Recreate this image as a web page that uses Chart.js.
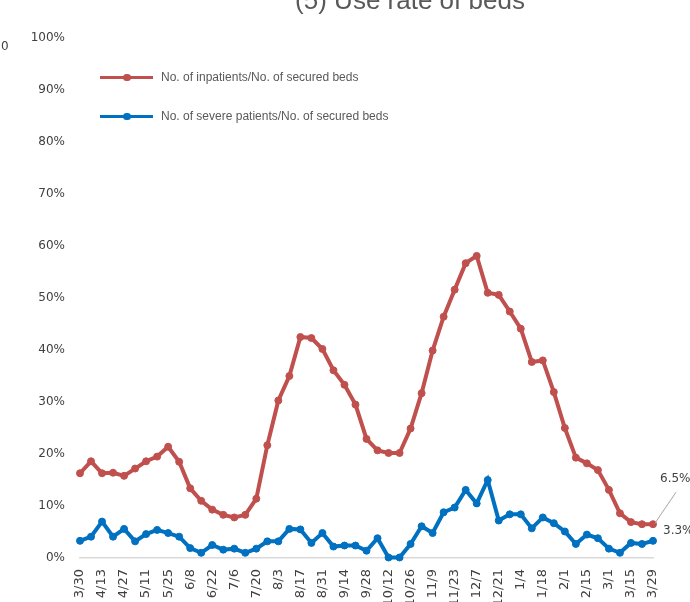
<!DOCTYPE html>
<html>
<head>
<meta charset="utf-8">
<script src="https://cdn.jsdelivr.net/npm/chart.js@4/dist/chart.umd.min.js"></script>
<style>
  html, body { margin: 0; padding: 0; background: #fff; }
  #wrap { position: relative; width: 690px; height: 602px; overflow: hidden; background: #fff; }
  #c { position: absolute; left: 0; top: 0; }
  .title { position: absolute; left: 410px; top: -13px; transform: translateX(-50%); font: 26px "Liberation Sans", Arial, sans-serif; line-height: 26px; color: #595959; white-space: nowrap; }
  .leg { position: absolute; left: 100px; height: 16px; font: 12px "Liberation Sans", Arial, sans-serif; color: #595959; white-space: nowrap; }
  .leg .ln { position: absolute; left: 0; top: 7px; width: 53px; height: 2.5px; }
  .leg .dt { position: absolute; left: 23px; top: 4.5px; width: 7.5px; height: 7.5px; border-radius: 50%; }
  .leg .tx { position: absolute; left: 61px; top: 0; line-height: 16px; }
  .stray { position: absolute; left: 1px; top: 39px; font: 12px "DejaVu Sans", sans-serif; color: #404040; }
</style>
</head>
<body>
<div id="wrap">
  <canvas id="c" width="690" height="602"></canvas>
  <div class="title">(5) Use rate of beds</div>
  <div class="stray">0</div>
  <div class="leg" style="top:69px"><span class="ln" style="background:#C0504D"></span><span class="dt" style="background:#C0504D"></span><span class="tx">No. of inpatients/No. of secured beds</span></div>
  <div class="leg" style="top:108px"><span class="ln" style="background:#0070C0"></span><span class="dt" style="background:#0070C0"></span><span class="tx">No. of severe patients/No. of secured beds</span></div>
</div>
<script>
const categories = ["3/30","4/6","4/13","4/20","4/27","5/4","5/11","5/18","5/25","6/1","6/8","6/15","6/22","6/29","7/6","7/13","7/20","7/27","8/3","8/10","8/17","8/24","8/31","9/7","9/14","9/21","9/28","10/5","10/12","10/19","10/26","11/2","11/9","11/16","11/23","11/30","12/7","12/14","12/21","12/28","1/4","1/11","1/18","1/25","2/1","2/8","2/15","2/22","3/1","3/8","3/15","3/22","3/29"];

const inpatientsRate = [16.3,18.6,16.3,16.4,15.8,17.2,18.6,19.5,21.4,18.5,13.4,11.0,9.3,8.3,7.8,8.3,11.4,21.7,30.3,35.0,42.5,42.3,40.2,36.1,33.3,29.5,22.9,20.7,20.2,20.2,24.9,31.7,39.9,46.4,51.6,56.7,58.1,51.0,50.6,47.4,44.1,37.7,38.0,31.9,25.0,19.3,18.2,16.9,13.1,8.6,6.9,6.5,6.5];

const severeRate = [3.3,4.1,7.0,4.1,5.6,3.2,4.6,5.4,4.8,4.1,1.9,1.0,2.5,1.6,1.8,1.0,1.8,3.2,3.2,5.6,5.5,2.9,4.8,2.2,2.4,2.4,1.4,3.8,0.1,0.1,2.7,6.1,4.8,8.8,9.7,13.1,10.5,15.0,7.2,8.4,8.4,5.7,7.8,6.7,5.1,2.7,4.5,3.8,1.8,1.0,2.9,2.7,3.3];

const yTicks = [0,10,20,30,40,50,60,70,80,90,100];

const RED = '#C0504D', BLUE = '#0070C0';

const endLabels = {
  id: 'endLabels',
  afterDatasetsDraw(chart) {
    const ctx = chart.ctx;
    const xs = chart.scales.x, ys = chart.scales.y;
    const i = categories.length - 1;
    const px = xs.getPixelForValue(i);
    const pr = ys.getPixelForValue(inpatientsRate[i]);
    const pb = ys.getPixelForValue(severeRate[i]);
    ctx.save();
    ctx.strokeStyle = '#A6A6A6';
    ctx.lineWidth = 1;
    ctx.beginPath();
    ctx.moveTo(px + 2, pr - 1);
    ctx.lineTo(px + 23, pr - 32);
    ctx.stroke();
    ctx.fillStyle = '#404040';
    ctx.font = '12px "DejaVu Sans", sans-serif';
    ctx.textAlign = 'left';
    ctx.textBaseline = 'middle';
    ctx.fillText(inpatientsRate[i].toFixed(1) + '%', px + 7, pr - 45);
    ctx.fillText(severeRate[i].toFixed(1) + '%', px + 10, pb - 10);
    ctx.restore();
  }
};

new Chart(document.getElementById('c'), {
  type: 'line',
  data: {
    labels: categories,
    datasets: [
      { label: 'No. of inpatients/No. of secured beds', data: inpatientsRate, borderColor: RED, backgroundColor: RED,
        borderWidth: 4, pointRadius: 3.5, pointBorderWidth: 1, pointBorderColor: RED, pointBackgroundColor: RED, tension: 0, clip: false },
      { label: 'No. of severe patients/No. of secured beds', data: severeRate, borderColor: BLUE, backgroundColor: BLUE,
        borderWidth: 4, pointRadius: 3.5, pointBorderWidth: 1, pointBorderColor: BLUE, pointBackgroundColor: BLUE, tension: 0, clip: false }
    ]
  },
  options: {
    responsive: false,
    animation: false,
    devicePixelRatio: 1,
    layout: { padding: { left: 0, right: 37, top: 38, bottom: 0 } },
    plugins: { legend: { display: false }, title: { display: false }, tooltip: { enabled: false } },
    scales: {
      x: {
        offset: false,
        grid: { display: false, drawTicks: false },
        border: { display: true, color: '#D9D9D9', width: 1.5 },
        ticks: {
          autoSkip: false, minRotation: 90, maxRotation: 90, padding: 11,
          color: '#404040', font: { family: 'DejaVu Sans', size: 13 },
          callback: (v, idx) => (idx % 2 === 0 ? categories[idx] : '')
        },
        afterFit: (s) => { s.height = 44; }
      },
      y: {
        min: 0, max: 100,
        afterBuildTicks: (s) => { s.ticks = yTicks.map(v => ({ value: v })); },
        grid: { display: false, drawTicks: false },
        border: { display: false },
        ticks: { padding: 15, color: '#404040', font: { family: 'DejaVu Sans', size: 12 }, callback: (v) => v + '%' },
        afterFit: (s) => { s.width = 80; }
      }
    }
  },
  plugins: [endLabels]
});
</script>
</body>
</html>
